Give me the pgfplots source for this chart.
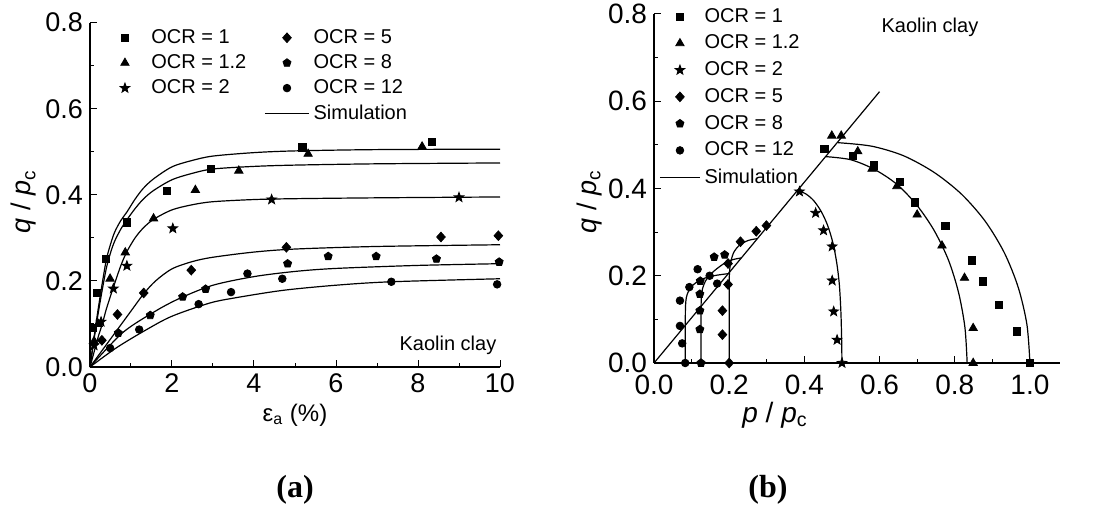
\documentclass[border=0pt]{standalone}
\usepackage{pgfplots}
\pgfplotsset{compat=1.18}
\usetikzlibrary{plotmarks}
\usepackage{fontspec}
\setmainfont{Liberation Sans}
\newfontfamily\tnr{Liberation Serif}

\pgfdeclareplotmark{fstar}{%
  \pgfpathmoveto{\pgfpointpolar{90}{1.2\pgfplotmarksize}}%
  \pgfpathlineto{\pgfpointpolar{126}{0.5\pgfplotmarksize}}%
  \pgfpathlineto{\pgfpointpolar{162}{1.2\pgfplotmarksize}}%
  \pgfpathlineto{\pgfpointpolar{198}{0.5\pgfplotmarksize}}%
  \pgfpathlineto{\pgfpointpolar{234}{1.2\pgfplotmarksize}}%
  \pgfpathlineto{\pgfpointpolar{270}{0.5\pgfplotmarksize}}%
  \pgfpathlineto{\pgfpointpolar{306}{1.2\pgfplotmarksize}}%
  \pgfpathlineto{\pgfpointpolar{342}{0.5\pgfplotmarksize}}%
  \pgfpathlineto{\pgfpointpolar{18}{1.2\pgfplotmarksize}}%
  \pgfpathlineto{\pgfpointpolar{54}{0.5\pgfplotmarksize}}%
  \pgfpathclose\pgfusepathqfillstroke}
\pgfdeclareplotmark{fdia}{%
  \pgfpathmoveto{\pgfpoint{0pt}{\pgfplotmarksize}}%
  \pgfpathlineto{\pgfpoint{0.9\pgfplotmarksize}{0pt}}%
  \pgfpathlineto{\pgfpoint{0pt}{-\pgfplotmarksize}}%
  \pgfpathlineto{\pgfpoint{-0.9\pgfplotmarksize}{0pt}}%
  \pgfpathclose\pgfusepathqfillstroke}

\pgfplotsset{
  mycommon/.style={
    scale only axis,
    axis x line*=bottom, axis y line*=left,
    axis line style={-, line width=0.6pt},
    tick align=inside,
    tick style={black, line width=0.5pt},
    major tick length=3.5pt, minor tick length=2pt,
    /pgf/number format/assume math mode=true,
    clip=false,
  },
  mysq/.style={only marks, mark=square*, mark size=1.8pt, black},
  mytri/.style={only marks, mark=triangle*, mark size=2.4pt, black},
  mystar/.style={only marks, mark=fstar, mark size=2.1pt, black},
  mydia/.style={only marks, mark=fdia, mark size=2.4pt, black},
  mypent/.style={only marks, mark=pentagon*, mark size=2.1pt, black},
  mycirc/.style={only marks, mark=*, mark size=1.9pt, black},
  mysim/.style={black, line width=0.6pt, mark=none, smooth, tension=0.5},
}

\begin{document}
\begin{tikzpicture}
\useasboundingbox (0,0) rectangle (548.5pt,257.5pt);

% ---------------- (a) ----------------
\begin{axis}[mycommon,
  at={(45pt,74pt)}, anchor=south west,
  width=205pt, height=172.2pt,
  xmin=0, xmax=10, ymin=0, ymax=0.8,
  xtick={0,2,4,6,8,10}, minor x tick num=1,
  ytick={0,0.2,0.4,0.6,0.8}, minor y tick num=1,
  yticklabel style={/pgf/number format/.cd, fixed, fixed zerofill, precision=1},
  tick label style={font=\fontsize{13.5}{15}\selectfont},
  xlabel={ε\textsubscript{a} (\%)},
  xlabel style={at={(axis description cs:0.5,-0.139)}, anchor=center, font=\fontsize{12}{14}\selectfont},
  ylabel={\textit{q} / \textit{p}\textsubscript{c}},
  ylabel style={at={(axis description cs:-0.161,0.48)}, anchor=center, font=\fontsize{13.5}{16}\selectfont},
  legend image code/.code={\draw[mark repeat=2,mark phase=2,#1] plot coordinates {(0pt,0pt)(11pt,0pt)(22pt,0pt)};},
  legend columns=2,
  legend style={draw=none, fill=none, at={(axis description cs:0.015,1.005)}, anchor=north west,
    font=\fontsize{10}{12}\selectfont, row sep=0.1pt,
    /tikz/every even column/.append style={column sep=7pt}},
  legend cell align=left,
]
\addlegendimage{mysq}\addlegendentry{OCR = 1}
\addlegendimage{mydia}\addlegendentry{OCR = 5}
\addlegendimage{mytri}\addlegendentry{OCR = 1.2}
\addlegendimage{mypent}\addlegendentry{OCR = 8}
\addlegendimage{mystar}\addlegendentry{OCR = 2}
\addlegendimage{mycirc}\addlegendentry{OCR = 12}
\addlegendimage{draw opacity=0, mark=none}\addlegendentry{}
\addlegendimage{black, line width=0.6pt}\addlegendentry{Simulation}

% simulations
\addplot[mysim, forget plot] coordinates {(0,0)(0.1,0.07)(0.2,0.135)(0.3,0.195)(0.4,0.25)(0.5,0.285)(0.6,0.313)(0.75,0.34)(0.9,0.36)(1.1,0.39)(1.3,0.415)(1.55,0.437)(2.0,0.465)(2.5,0.48)(3.0,0.49)(4,0.498)(5,0.502)(7,0.505)(10,0.506)};
\addplot[mysim, forget plot] coordinates {(0,0)(0.1,0.065)(0.2,0.125)(0.3,0.18)(0.4,0.23)(0.5,0.265)(0.6,0.292)(0.75,0.32)(0.9,0.342)(1.1,0.368)(1.3,0.39)(1.55,0.41)(2.0,0.435)(2.5,0.45)(3.0,0.46)(4,0.466)(5,0.469)(7,0.472)(10,0.474)};
\addplot[mysim, forget plot] coordinates {(0,0)(0.1,0.035)(0.2,0.07)(0.3,0.1)(0.4,0.135)(0.57,0.185)(0.75,0.235)(0.9,0.268)(1.1,0.3)(1.3,0.323)(1.55,0.343)(2.0,0.365)(2.5,0.377)(3,0.384)(4,0.389)(5,0.391)(7,0.393)(10,0.395)};
\addplot[mysim, forget plot] coordinates {(0,0)(0.5,0.065)(1.0,0.13)(1.31,0.17)(1.6,0.2)(2.0,0.228)(2.5,0.245)(3,0.255)(4,0.267)(5,0.274)(7,0.28)(10,0.284)};
\addplot[mysim, forget plot] coordinates {(0,0)(0.8,0.08)(1.6,0.13)(2.2,0.16)(3,0.19)(4,0.21)(5,0.222)(6,0.229)(8,0.236)(10,0.240)};
\addplot[mysim, forget plot] coordinates {(0,0)(0.65,0.045)(1.4,0.088)(2.0,0.118)(2.9,0.148)(3.5,0.16)(4.7,0.178)(6,0.19)(7.35,0.198)(10,0.205)};

% data
\addplot[mysq, forget plot] coordinates {(0.08,0.09)(0.16,0.172)(0.39,0.252)(0.90,0.336)(1.88,0.41)(2.94,0.46)(5.18,0.51)(8.34,0.522)};
\addplot[mytri, forget plot] coordinates {(0.1,0.06)(0.2,0.1)(0.49,0.205)(0.86,0.266)(1.55,0.345)(2.57,0.411)(3.63,0.456)(5.32,0.495)(8.10,0.512)};
\addplot[mystar, forget plot] coordinates {(0.1,0.05)(0.27,0.105)(0.57,0.182)(0.90,0.235)(2.02,0.322)(4.43,0.389)(9.0,0.394)};
\addplot[mydia, forget plot] coordinates {(0.29,0.062)(0.67,0.122)(1.31,0.172)(2.47,0.225)(4.79,0.278)(8.56,0.302)(9.96,0.305)};
\addplot[mypent, forget plot] coordinates {(0.69,0.079)(1.47,0.12)(2.26,0.163)(2.82,0.181)(4.82,0.240)(5.81,0.257)(6.98,0.257)(8.45,0.251)(9.98,0.244)};
\addplot[mycirc, forget plot] coordinates {(0.49,0.044)(1.20,0.087)(2.65,0.146)(3.44,0.174)(3.84,0.217)(4.69,0.205)(7.35,0.198)(9.93,0.192)};

\node[font=\fontsize{10}{12}\selectfont] at (axis cs:8.73,0.051) {Kaolin clay};
\end{axis}

% ---------------- (b) ----------------
\begin{axis}[mycommon,
  at={(327pt,76pt)}, anchor=south west,
  width=203pt, height=174.5pt,
  xmin=0, xmax=1.08, ymin=0, ymax=0.8,
  xtick={0,0.2,0.4,0.6,0.8,1.0}, minor x tick num=1,
  ytick={0,0.2,0.4,0.6,0.8}, minor y tick num=1,
  xticklabel style={yshift=-2.5pt, /pgf/number format/.cd, fixed, fixed zerofill, precision=1},
  yticklabel style={/pgf/number format/.cd, fixed, fixed zerofill, precision=1},
  tick label style={font=\fontsize{14}{16}\selectfont},
  xlabel={\textit{p} / \textit{p}\textsubscript{c}},
  xlabel style={at={(axis description cs:0.298,-0.149)}, anchor=center, font=\fontsize{14}{16}\selectfont},
  ylabel={\textit{q} / \textit{p}\textsubscript{c}},
  ylabel style={at={(axis description cs:-0.16,0.462)}, anchor=center, font=\fontsize{13.5}{16}\selectfont},
  legend image code/.code={\draw[mark repeat=2,mark phase=2,#1] plot coordinates {(0pt,0pt)(10pt,0pt)(20pt,0pt)};},
  legend style={draw=none, fill=none, at={(axis description cs:-0.0026,1.041)}, anchor=north west,
    font=\fontsize{10}{12}\selectfont, row sep=0.9pt},
  legend cell align=left,
]
\addlegendimage{mysq}\addlegendentry{OCR = 1}
\addlegendimage{mytri}\addlegendentry{OCR = 1.2}
\addlegendimage{mystar}\addlegendentry{OCR = 2}
\addlegendimage{mydia}\addlegendentry{OCR = 5}
\addlegendimage{mypent}\addlegendentry{OCR = 8}
\addlegendimage{mycirc}\addlegendentry{OCR = 12}
\addlegendimage{black, line width=0.6pt}\addlegendentry{Simulation}

% critical state line
\addplot[black, line width=0.6pt, forget plot] coordinates {(0,0)(0.60,0.622)};
% simulations
\addplot[mysim, forget plot] coordinates {(1.0,0)(0.992,0.088)(0.969,0.173)(0.932,0.2525)(0.881,0.325)(0.818,0.387)(0.745,0.437)(0.664,0.475)(0.579,0.497)(0.49,0.505)};
\addplot[mysim, forget plot] coordinates {(0.833,0)(0.827,0.082)(0.810,0.162)(0.783,0.2365)(0.745,0.304)(0.699,0.362)(0.6455,0.410)(0.586,0.444)(0.523,0.466)(0.458,0.473)};
\addplot[mysim, forget plot] coordinates {(0.5,0)(0.499,0.06)(0.497,0.12)(0.493,0.18)(0.486,0.23)(0.476,0.275)(0.462,0.315)(0.445,0.347)(0.425,0.372)(0.405,0.387)(0.385,0.395)};
\addplot[mysim, forget plot] coordinates {(0.2,0)(0.2,0.1)(0.2,0.18)(0.201,0.21)(0.205,0.235)(0.213,0.255)(0.227,0.27)(0.245,0.279)(0.26,0.283)(0.275,0.285)};
\addplot[mysim, forget plot] coordinates {(0.125,0)(0.125,0.08)(0.125,0.12)(0.126,0.15)(0.129,0.17)(0.137,0.188)(0.15,0.203)(0.167,0.216)(0.19,0.23)(0.21,0.237)(0.233,0.241)};
\addplot[mysim, forget plot] coordinates {(0.0833,0)(0.0833,0.06)(0.0833,0.1)(0.0838,0.13)(0.086,0.15)(0.092,0.165)(0.103,0.178)(0.12,0.189)(0.14,0.196)(0.165,0.201)(0.199,0.205)};

% data
\addplot[mysq, forget plot] coordinates {(0.4535,0.490)(0.529,0.475)(0.585,0.453)(0.655,0.416)(0.695,0.368)(0.775,0.315)(0.846,0.235)(0.874,0.187)(0.917,0.134)(0.965,0.0725)(1.0,0.0)};
\addplot[mytri, forget plot] coordinates {(0.473,0.521)(0.498,0.521)(0.542,0.485)(0.580,0.445)(0.646,0.405)(0.700,0.340)(0.766,0.269)(0.826,0.195)(0.849,0.080)(0.849,0.0)};
\addplot[mystar, forget plot] coordinates {(0.387,0.393)(0.430,0.344)(0.451,0.304)(0.474,0.267)(0.474,0.189)(0.478,0.118)(0.487,0.053)(0.5,0.0)};
\addplot[mydia, forget plot] coordinates {(0.2,0)(0.182,0.065)(0.182,0.12)(0.197,0.18)(0.197,0.228)(0.23,0.278)(0.272,0.302)(0.299,0.315)};
\addplot[mypent, forget plot] coordinates {(0.125,0)(0.122,0.077)(0.122,0.12)(0.122,0.158)(0.123,0.188)(0.16,0.243)(0.188,0.248)};
\addplot[mycirc, forget plot] coordinates {(0.083,0)(0.075,0.045)(0.069,0.085)(0.069,0.143)(0.094,0.174)(0.116,0.215)(0.148,0.200)(0.168,0.182)};

\node[font=\fontsize{10}{12}\selectfont] at (axis cs:0.734,0.770) {Kaolin clay};
\end{axis}

\node[font=\tnr\bfseries\fontsize{16}{18}\selectfont] at (147.5pt,12.5pt) {(a)};
\node[font=\tnr\bfseries\fontsize{16}{18}\selectfont] at (384pt,12.5pt) {(b)};
\end{tikzpicture}
\end{document}
